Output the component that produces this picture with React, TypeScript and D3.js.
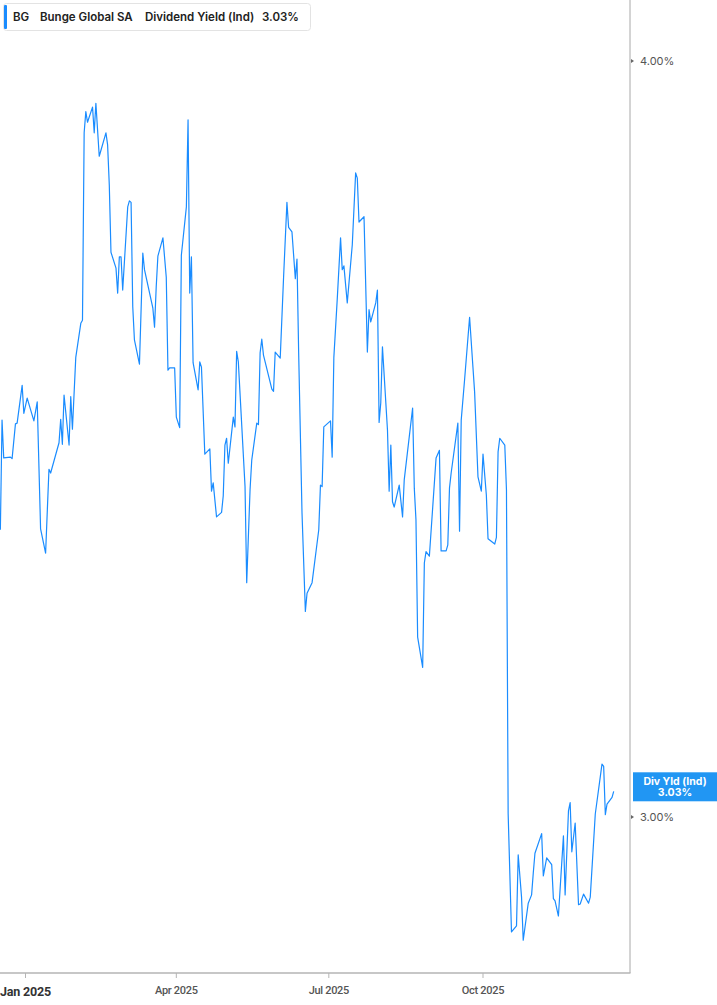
import React from 'react';
import * as d3 from 'd3';

// Dividend yield (%)
const dates = [
  '2024-12-17', '2024-12-18', '2024-12-19', '2024-12-23', '2024-12-24', '2024-12-26', '2024-12-27', '2024-12-30', '2024-12-31',
  '2025-01-02', '2025-01-06', '2025-01-08', '2025-01-10', '2025-01-13', '2025-01-15', '2025-01-16', '2025-01-21', '2025-01-22',
  '2025-01-23', '2025-01-24', '2025-01-27', '2025-01-28', '2025-01-29', '2025-01-31',
  '2025-02-03', '2025-02-04', '2025-02-05', '2025-02-06', '2025-02-07', '2025-02-10', '2025-02-11', '2025-02-12', '2025-02-14',
  '2025-02-18', '2025-02-19', '2025-02-20', '2025-02-21', '2025-02-24', '2025-02-25', '2025-02-26', '2025-02-27', '2025-02-28',
  '2025-03-03', '2025-03-04', '2025-03-05', '2025-03-06', '2025-03-07', '2025-03-10', '2025-03-12', '2025-03-13', '2025-03-18',
  '2025-03-19', '2025-03-20', '2025-03-21', '2025-03-24', '2025-03-26', '2025-03-27', '2025-03-28', '2025-03-31',
  '2025-04-01', '2025-04-03', '2025-04-04', '2025-04-07', '2025-04-08', '2025-04-09', '2025-04-10', '2025-04-11', '2025-04-14',
  '2025-04-15', '2025-04-16', '2025-04-18', '2025-04-21', '2025-04-22', '2025-04-23', '2025-04-25', '2025-04-28', '2025-04-29',
  '2025-04-30',
  '2025-05-01', '2025-05-02', '2025-05-05', '2025-05-06', '2025-05-07', '2025-05-08', '2025-05-12', '2025-05-13', '2025-05-15',
  '2025-05-16', '2025-05-19', '2025-05-20', '2025-05-21', '2025-05-22', '2025-05-23', '2025-05-28', '2025-05-29', '2025-05-30',
  '2025-06-02', '2025-06-04', '2025-06-06', '2025-06-07', '2025-06-09', '2025-06-11', '2025-06-12', '2025-06-13', '2025-06-15',
  '2025-06-17', '2025-06-18', '2025-06-21', '2025-06-25', '2025-06-26', '2025-06-27', '2025-06-28',
  '2025-07-02', '2025-07-03', '2025-07-04', '2025-07-06', '2025-07-08', '2025-07-09', '2025-07-10', '2025-07-12', '2025-07-15',
  '2025-07-17', '2025-07-18', '2025-07-19', '2025-07-22', '2025-07-24', '2025-07-25', '2025-07-26', '2025-07-29', '2025-07-30',
  '2025-07-31',
  '2025-08-01', '2025-08-02', '2025-08-05', '2025-08-06', '2025-08-07', '2025-08-08', '2025-08-09', '2025-08-12', '2025-08-14',
  '2025-08-15', '2025-08-20', '2025-08-21', '2025-08-22', '2025-08-23', '2025-08-26', '2025-08-27', '2025-08-28', '2025-08-30',
  '2025-09-03', '2025-09-05', '2025-09-06', '2025-09-09', '2025-09-10', '2025-09-11', '2025-09-12', '2025-09-16', '2025-09-17',
  '2025-09-18', '2025-09-20', '2025-09-23', '2025-09-25', '2025-09-26', '2025-09-28', '2025-09-30',
  '2025-10-01', '2025-10-03', '2025-10-04', '2025-10-08', '2025-10-09', '2025-10-10', '2025-10-11', '2025-10-14', '2025-10-15',
  '2025-10-16', '2025-10-18', '2025-10-21', '2025-10-22', '2025-10-24', '2025-10-25', '2025-10-28', '2025-10-30', '2025-10-31',
  '2025-11-01', '2025-11-05', '2025-11-06', '2025-11-08', '2025-11-11', '2025-11-12', '2025-11-13', '2025-11-15', '2025-11-18',
  '2025-11-19', '2025-11-21', '2025-11-22', '2025-11-23', '2025-11-25', '2025-11-27', '2025-11-28', '2025-11-30',
  '2025-12-03', '2025-12-04', '2025-12-07', '2025-12-11', '2025-12-12', '2025-12-13', '2025-12-14', '2025-12-17', '2025-12-18',
];

const yields = [
  3.380, 3.525, 3.475, 3.476, 3.474, 3.520, 3.521, 3.571, 3.534,
  3.554, 3.524, 3.549, 3.381, 3.349, 3.460, 3.455, 3.495, 3.526,
  3.493, 3.558, 3.492, 3.556, 3.513, 3.608,
  3.653, 3.657, 3.905, 3.933, 3.919, 3.939, 3.905, 3.944, 3.874,
  3.905, 3.889, 3.836, 3.747, 3.726, 3.693, 3.741, 3.741, 3.697,
  3.807, 3.815, 3.813, 3.675, 3.631, 3.599, 3.746, 3.724, 3.673,
  3.648, 3.701, 3.742, 3.766, 3.714, 3.591, 3.594, 3.594,
  3.529, 3.515, 3.743, 3.807, 3.922, 3.693, 3.741, 3.601, 3.565,
  3.602, 3.595, 3.480, 3.487, 3.431, 3.442, 3.397, 3.403, 3.425,
  3.492,
  3.501, 3.468, 3.529, 3.516, 3.616, 3.602, 3.437, 3.310, 3.433,
  3.472, 3.521, 3.519, 3.614, 3.632, 3.611, 3.566, 3.563, 3.615,
  3.607, 3.714, 3.813, 3.780, 3.774, 3.712, 3.738, 3.614, 3.402,
  3.272, 3.296, 3.310, 3.380, 3.439, 3.437, 3.516,
  3.524, 3.476, 3.608, 3.684, 3.766, 3.724, 3.729, 3.680, 3.757,
  3.852, 3.845, 3.787, 3.794, 3.615, 3.671, 3.655, 3.680, 3.697,
  3.522,
  3.548, 3.622, 3.512, 3.431, 3.492, 3.417, 3.410, 3.439, 3.397,
  3.446, 3.541, 3.435, 3.393, 3.238, 3.198, 3.336, 3.351, 3.345,
  3.475, 3.485, 3.352, 3.352, 3.360, 3.435, 3.455, 3.521, 3.378,
  3.525, 3.578, 3.661, 3.595, 3.562, 3.450, 3.431,
  3.480, 3.426, 3.368, 3.361, 3.370, 3.483, 3.501, 3.492, 3.433,
  3.005, 2.848, 2.856, 2.950, 2.894, 2.837, 2.886, 2.897, 2.926,
  2.952, 2.978, 2.922, 2.946, 2.937, 2.892, 2.889, 2.869, 2.975,
  2.897, 3.008, 3.019, 2.954, 2.992, 2.884, 2.885, 2.898,
  2.886, 2.894, 3.004, 3.070, 3.067, 3.003, 3.017, 3.026, 3.034,
];

const xTickDates = ['2025-01-01', '2025-04-01', '2025-07-01', '2025-10-01'];
const xTickLabels = ['Jan 2025', 'Apr 2025', 'Jul 2025', 'Oct 2025'];
const yTicks = [3, 4];

const ticker = 'BG';
const company = 'Bunge Global SA';
const metric = 'Dividend Yield (Ind)';
const badgeTitle = 'Div Yld (Ind)';

const W = 717;
const H = 1005;
const plotRight = 630;
const plotBottom = 973;
const lineColor = '#1a8cff';
const badgeColor = '#2196f3';
const uiFont = 'Inter, "Noto Sans", sans-serif';
const axisFont = 'Roboto, "Liberation Sans", sans-serif';

export default function App() {
  const parse = (s: string) => new Date(s + 'T00:00:00Z');
  const data = dates.map((d, i) => ({ date: parse(d), value: yields[i] }));

  const x = d3.scaleUtc()
    .domain([parse('2025-01-01'), parse('2025-10-01')])
    .range([25.5, 483]);
  const y = d3.scaleLinear().domain([3, 4]).range([817, 61]);

  const line = d3.line<{ date: Date; value: number }>()
    .x(d => x(d.date))
    .y(d => y(d.value));

  const last = data[data.length - 1];
  const lastText = last.value.toFixed(2) + '%';
  const badgeY = y(last.value);

  return (
    <div style={{ position: 'absolute', left: 0, top: 0 }}>
      <svg width={W} height={H} style={{ display: 'block', background: '#fff' }}>
        <defs>
          <clipPath id="plot">
            <rect x={0} y={0} width={plotRight} height={plotBottom} />
          </clipPath>
        </defs>

        {/* line */}
        <path d={line(data) ?? ''} fill="none" stroke={lineColor} strokeWidth={1.2}
          strokeLinejoin="round" clipPath="url(#plot)" />

        {/* right axis */}
        <line x1={plotRight} x2={plotRight} y1={0} y2={plotBottom} stroke="#a8a8a8" strokeWidth={1} />
        {yTicks.map(t => (
          <g key={t}>
            <path d={`M${plotRight + 1},${y(t) - 2}L${plotRight + 4},${y(t)}L${plotRight + 1},${y(t) + 2}Z`} fill="#666" />
            <text x={640} y={y(t)} dy="0.35em" fontFamily={uiFont} fontSize={11} fill="#555">
              {t.toFixed(2) + '%'}
            </text>
          </g>
        ))}

        {/* bottom axis */}
        <line x1={0} x2={plotRight + 0.5} y1={plotBottom} y2={plotBottom} stroke="#b5b5b5" strokeWidth={1.5} />
        {xTickDates.map((d, i) => {
          const tx = x(parse(d));
          const first = i === 0;
          return (
            <g key={d}>
              <line x1={tx} x2={tx} y1={plotBottom} y2={plotBottom + 5} stroke="#b5b5b5" strokeWidth={1} />
              <text x={tx} y={first ? 996 : 994} textAnchor="middle" fontFamily={axisFont}
                fontSize={first ? 12.5 : 11} fontWeight={first ? 700 : 500}
                fill={first ? '#333' : '#555'} letterSpacing={first ? -0.2 : -0.3}>
                {xTickLabels[i]}
              </text>
            </g>
          );
        })}

        {/* last value badge */}
        <rect x={633} y={badgeY - 19} width={W - 633} height={29} fill={badgeColor} />
        <text x={675} y={badgeY - 9.5} textAnchor="middle" dy="0.35em" fontFamily={uiFont}
          fontSize={10.5} fontWeight={700} fill="#fff">{badgeTitle}</text>
        <text x={675} y={badgeY + 1.5} textAnchor="middle" dy="0.35em" fontFamily={uiFont}
          fontSize={10.5} fontWeight={700} fill="#fff">{lastText}</text>

        {/* header legend */}
        <rect x={3.5} y={3.5} width={307} height={27} rx={3} fill="#fff" stroke="#e3e3e3" />
        <rect x={4} y={5} width={3} height={24} rx={1} fill={lineColor} />
        <g fontFamily={uiFont} fontSize={11.5} fontWeight={600} fill="#222">
          <text x={13} y={21}>{ticker}</text>
          <text x={40} y={21}>{company}</text>
          <text x={145} y={21}>{metric}</text>
          <text x={262} y={21}>{lastText}</text>
        </g>
      </svg>
    </div>
  );
}
